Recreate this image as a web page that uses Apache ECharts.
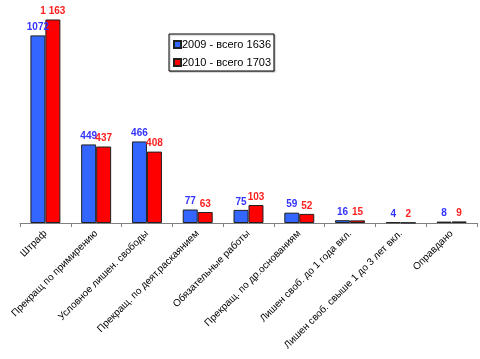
<!DOCTYPE html>
<html><head><meta charset="utf-8">
<script src="https://cdn.jsdelivr.net/npm/echarts@6/dist/echarts.min.js"></script>
<style>html,body{margin:0;padding:0;background:#fff}#c{width:480px;height:359px}</style>
</head><body><div id="c"></div>
<script>
const categories = ['Штраф','Прекращ по примирению','Условное лишен. свободы','Прекращ. по деят.раскаянием','Обязательные работы','Прекращ. по др.основаниям','Лишен своб. до 1 года вкл.','Лишен своб. свыше 1 до 3 лет вкл.','Оправдано'];
const values2009 = [1072,449,466,77,75,59,16,4,8];
const values2010 = [1163,437,408,63,103,52,15,2,9];
const seriesNames = ['2009 - всего 1636','2010 - всего 1703'];
const fmtSpace = v => String(v).replace(/\B(?=(\d{3})+(?!\d))/g,' ');
const chart = echarts.init(document.getElementById('c'));
chart.setOption({
  animation:false,
  textStyle:{fontFamily:'Liberation Sans, Arial, sans-serif'},
  grid:{left:20,right:3,top:13,bottom:136,containLabel:false},
  legend:{
    orient:'vertical', left:169, top:34, itemWidth:7, itemHeight:7, itemGap:7,
    padding:[5,3,3,4], borderColor:'#000', borderWidth:1, backgroundColor:'#fff',
    shadowColor:'rgba(0,0,0,0.25)', shadowOffsetX:1, shadowOffsetY:1, shadowBlur:1,
    textStyle:{fontSize:11,color:'#000',padding:[0,0,0,-4]},
    data:seriesNames, icon:'rect'
  },
  xAxis:{type:'category',data:categories,
    axisLine:{lineStyle:{color:'#808080',width:1}},
    axisTick:{show:true,length:4,lineStyle:{color:'#808080'}},
    axisLabel:{rotate:45,fontSize:10,color:'#000',interval:0,margin:9}
  },
  yAxis:{type:'value',min:0,max:1200,show:false,splitLine:{show:false}},
  series:[
    {name:seriesNames[0],type:'bar',data:values2009,barGap:'0%',barCategoryGap:'41%',
     itemStyle:{color:'#3366FF',borderColor:'#202020',borderWidth:1},
     label:{show:true,position:'top',distance:3,color:'#3333FF',fontWeight:'bold',fontSize:10,formatter:p=>String(p.value)}},
    {name:seriesNames[1],type:'bar',data:values2010,
     itemStyle:{color:'#FF0000',borderColor:'#202020',borderWidth:1},
     label:{show:true,position:'top',distance:3,color:'#FF2020',fontWeight:'bold',fontSize:10,formatter:p=>fmtSpace(p.value)}}
  ]
});
</script></body></html>
